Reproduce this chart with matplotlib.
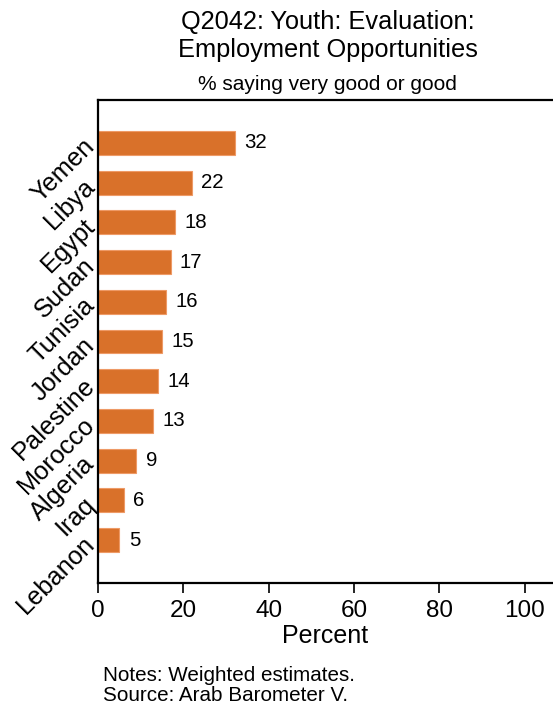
import matplotlib
matplotlib.use("Agg")
import matplotlib.pyplot as plt

plt.rcParams['font.family'] = ['Liberation Sans', 'DejaVu Sans']

countries = ["Yemen", "Libya", "Egypt", "Sudan", "Tunisia", "Jordan",
             "Palestine", "Morocco", "Algeria", "Iraq", "Lebanon"]
values = [32, 22, 18, 17, 16, 15, 14, 13, 9, 6, 5]
xticks = [0, 20, 40, 60, 80, 100]

fig = plt.figure(figsize=(5.53, 7.04), dpi=100)
ax = fig.add_axes([98/553, 1-583/704, 1-98/553, (583-100)/704])

n = len(countries)
ypos = list(range(n))[::-1]
ax.barh(ypos, values, height=0.6, color="#D9712A", edgecolor="#EE9A66", linewidth=0.8)
for y, v in zip(ypos, values):
    ax.text(v + 2.2, y, f"{v}", va="center", ha="left", fontsize=14.7)

ax.set_xlim(0, 106.6)
ax.set_ylim(-1.08, n - 1 + 1.08)
ax.set_xticks(xticks)
ax.set_xticklabels([str(t) for t in xticks], fontsize=17.5)
ax.set_yticks(ypos)
ax.set_yticklabels(countries, rotation=45, ha="right", va="center",
                   rotation_mode="anchor", fontsize=18.3)
ax.tick_params(axis="y", length=0, pad=5)
ax.tick_params(axis="x", length=7, width=1.2, direction="out", pad=5)
for s in ["left", "bottom", "top"]:
    ax.spines[s].set_linewidth(1.6)
ax.spines["right"].set_visible(False)
ax.set_xlabel("Percent", fontsize=18, labelpad=2)

fig.text(328/553, 1 - 22/704, "Q2042: Youth: Evaluation:",
         ha="center", va="center", fontsize=18.3)
fig.text(328/553, 1 - 50/704, "Employment Opportunities",
         ha="center", va="center", fontsize=18.3)
fig.text(327/553, 1 - 84/704, "% saying very good or good",
         ha="center", va="center", fontsize=15)
fig.text(103/553, 1 - 681/704, "Notes: Weighted estimates.",
         ha="left", va="baseline", fontsize=14.9)
fig.text(103/553, 1 - 701/704, "Source: Arab Barometer V.",
         ha="left", va="baseline", fontsize=14.9)

fig.savefig("out.png", dpi=100)
